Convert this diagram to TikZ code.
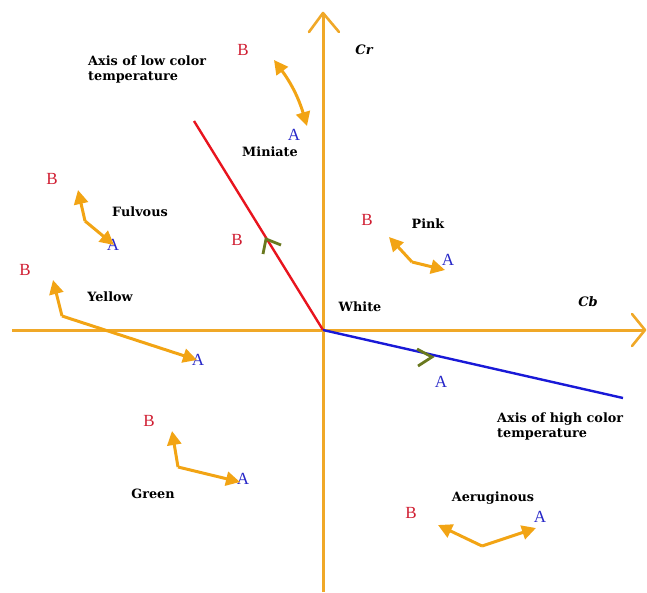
\documentclass[tikz,border=0pt]{standalone}
\usepackage{fontspec}
\setmainfont{Liberation Serif}
\newfontfamily\lblfont{DejaVu Serif}
\usetikzlibrary{arrows.meta}
\definecolor{axorange}{RGB}{240,168,40}
\definecolor{arrorange}{RGB}{242,164,20}
\definecolor{redline}{RGB}{232,20,30}
\definecolor{blueline}{RGB}{25,25,215}
\definecolor{olive}{RGB}{105,120,30}
\definecolor{bred}{RGB}{208,30,50}
\definecolor{ablue}{RGB}{40,40,200}
\tikzset{
  axisline/.style={draw=axorange, line width=3pt},
  chev/.style={draw=axorange, line width=2.6pt, line cap=round, line join=round},
  dirmark/.style={draw=olive, line width=2.8pt, line join=miter},
  oarr/.style={draw=arrorange, line width=3pt, line join=round, -{Triangle[length=14pt,width=14pt]}},
  lbl/.style={inner sep=0pt, font=\lblfont\bfseries\fontsize{12.8}{15}\selectfont},
  ltr/.style={inner sep=0pt, font=\fontsize{17}{17}\selectfont},
  btxt/.style={ltr, text=bred},
  atxt/.style={ltr, text=ablue},
}
\begin{document}
\begin{tikzpicture}[x=1pt,y=-1pt]
\useasboundingbox (0,0) rectangle (647,592);
% axes
\coordinate (O) at (323,330);
\coordinate (xl) at (12,330);
\coordinate (xr) at (645,330);
\coordinate (yt) at (323,13);
\coordinate (yb) at (323,592);
\draw[axisline] (xl) -- (xr);
\draw[axisline] (yb) -- (yt);
\coordinate (yt1) at (309,32);
\coordinate (yt2) at (339,32);
\draw[chev] (yt1) -- (yt) -- (yt2);
\coordinate (xr1) at (632,314);
\coordinate (xr2) at (632,346);
\draw[chev] (xr1) -- (xr) -- (xr2);
% colour temperature axes
\coordinate (redend) at (194,121);
\coordinate (blueend) at (623,398);
\draw[redline, line width=2.4pt] (O) -- (redend);
\draw[blueline, line width=2.4pt] (O) -- (blueend);
\coordinate (m1) at (263,254);
\coordinate (m2) at (266,239);
\coordinate (m3) at (281,245);
\draw[dirmark] (m1) -- (m2) -- (m3);
\coordinate (n1) at (417,349);
\coordinate (n2) at (432,357);
\coordinate (n3) at (418,366);
\draw[dirmark] (n1) -- (n2) -- (n3);
% labels
\node[lbl, anchor=north west, align=left] (lowax) at (88,56) {Axis of low color\\temperature};
\node[lbl, anchor=north west, align=left] (highax) at (497,413) {Axis of high color\\temperature};
\node[lbl] (miniate) at (270,152) {Miniate};
\node[lbl] (fulvous) at (140,212) {Fulvous};
\node[lbl] (yellow) at (110,297) {Yellow};
\node[lbl] (pink) at (428,224) {Pink};
\node[lbl] (green) at (153,494) {Green};
\node[lbl] (aerug) at (493,498) {Aeruginous};
\node[lbl] (white) at (360,307) {White};
\node[lbl, font=\lblfont\bfseries\itshape\fontsize{13}{15}\selectfont] (cr) at (364,50) {Cr};
\node[lbl, font=\lblfont\bfseries\itshape\fontsize{13}{15}\selectfont] (cb) at (588,302) {Cb};
% A / B letters
\node[btxt] (bmin) at (243,50) {B};
\node[atxt] (amin) at (294,135) {A};
\node[btxt] (bful) at (52,179) {B};
\node[atxt] (aful) at (113,245) {A};
\node[btxt] (bred) at (237,240) {B};
\node[btxt] (byel) at (25,270) {B};
\node[atxt] (ayel) at (198,360) {A};
\node[btxt] (bpink) at (367,220) {B};
\node[atxt] (apink) at (448,260) {A};
\node[atxt] (ablue) at (441,382) {A};
\node[btxt] (bgreen) at (149,421) {B};
\node[atxt] (agreen) at (243,479) {A};
\node[btxt] (baer) at (411,513) {B};
\node[atxt] (aaer) at (540,517) {A};
% orange arrows
\coordinate (mintop) at (274,60);
\coordinate (minbot) at (307,126);
\draw[oarr, {Triangle[length=14pt,width=14pt]}-{Triangle[length=14pt,width=14pt]}] (mintop) to[bend left=10] (minbot);
\coordinate (fulc) at (85,221);
\coordinate (fult) at (78,190);
\coordinate (fulr) at (114,245);
\draw[oarr] (fulc) -- (fult);
\draw[oarr] (fulc) -- (fulr);
\coordinate (yelc) at (62,316);
\coordinate (yelt) at (53,280);
\coordinate (yelr) at (197,360);
\draw[oarr] (yelc) -- (yelt);
\draw[oarr] (yelc) -- (yelr);
\coordinate (pinkc) at (412,262);
\coordinate (pinkl) at (389,237);
\coordinate (pinkr) at (445,270);
\draw[oarr] (pinkc) -- (pinkl);
\draw[oarr] (pinkc) -- (pinkr);
\coordinate (grc) at (178,467);
\coordinate (grt) at (172,431);
\coordinate (grr) at (240,482);
\draw[oarr] (grc) -- (grt);
\draw[oarr] (grc) -- (grr);
\coordinate (aerc) at (482,546);
\coordinate (aerl) at (438,525);
\coordinate (aerr) at (536,528);
\draw[oarr] (aerc) -- (aerl);
\draw[oarr] (aerc) -- (aerr);
\end{tikzpicture}
\end{document}
